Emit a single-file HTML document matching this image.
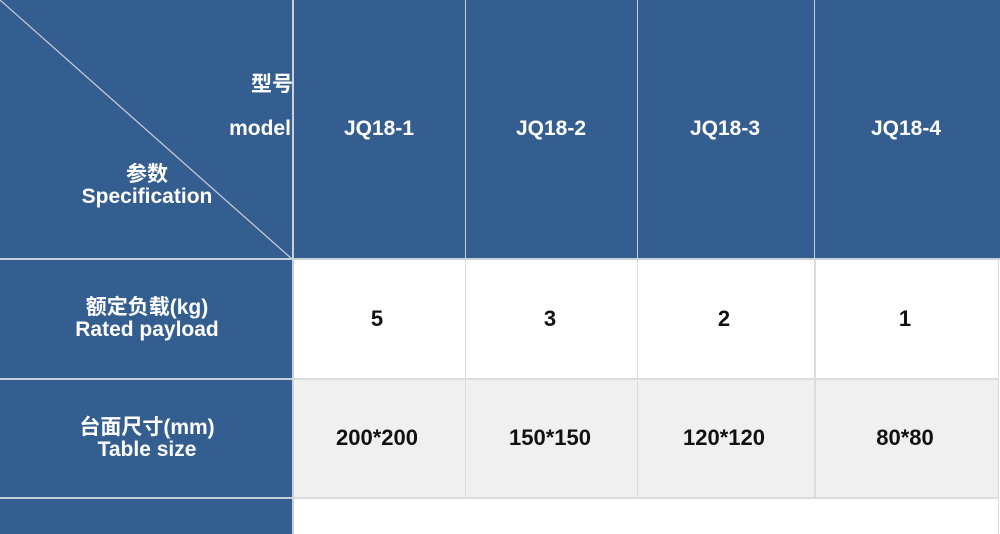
<!DOCTYPE html>
<html><head><meta charset="utf-8"><style>
html,body{margin:0;padding:0;}
body{width:1000px;height:534px;position:relative;overflow:hidden;background:#fff;font-family:"Liberation Sans","Noto Sans CJK SC",sans-serif;font-weight:bold;}
.b{position:absolute;background:#355e90;}
.g{position:absolute;background:#f0f0f0;}
.l{position:absolute;}
.t{position:absolute;font-size:21px;line-height:22px;white-space:nowrap;transform:translate(-50%,-50%);}
.w{color:#fff;}
.k{color:#111;font-size:22px;}
</style></head><body>
<div class="b" style="left:0;top:0;width:1000px;height:259px"></div>
<div class="b" style="left:0;top:0;width:293px;height:534px"></div>
<div class="g" style="left:293px;top:380px;width:706px;height:118px"></div>
<div class="l" style="left:292px;top:0;width:2px;height:534px;background:#c9d0da"></div>
<div class="l" style="left:465px;top:0;width:1px;height:259px;background:#c9d0da"></div>
<div class="l" style="left:637px;top:0;width:1px;height:259px;background:#c9d0da"></div>
<div class="l" style="left:814px;top:0;width:1px;height:259px;background:#c9d0da"></div>
<div class="l" style="left:0;top:258px;width:1000px;height:2px;background:#c9d0da"></div>
<div class="l" style="left:0;top:378px;width:293px;height:2px;background:#c9d0da"></div>
<div class="l" style="left:0;top:497px;width:293px;height:2px;background:#c9d0da"></div>
<div class="l" style="left:465px;top:259px;width:1px;height:239px;background:#dcdcdc"></div>
<div class="l" style="left:637px;top:259px;width:1px;height:239px;background:#dcdcdc"></div>
<div class="l" style="left:814px;top:259px;width:2px;height:239px;background:#dcdcdc"></div>
<div class="l" style="left:998px;top:259px;width:1px;height:275px;background:#dcdcdc"></div>
<div class="l" style="left:293px;top:378px;width:706px;height:2px;background:#dcdcdc"></div>
<div class="l" style="left:293px;top:497px;width:706px;height:2px;background:#dcdcdc"></div>
<svg style="position:absolute;left:0;top:0" width="294" height="260"><line x1="0" y1="0" x2="292" y2="259" stroke="#c9d0da" stroke-width="1.2"/></svg>
<div class="t w" style="left:272px;top:85px">型号</div>
<div class="t w" style="left:260px;top:129px">model</div>
<div class="t w" style="left:147px;top:175px">参数</div>
<div class="t w" style="left:147px;top:197px">Specification</div>
<div class="t w" style="left:379px;top:129px">JQ18-1</div>
<div class="t w" style="left:551px;top:129px">JQ18-2</div>
<div class="t w" style="left:725px;top:129px">JQ18-3</div>
<div class="t w" style="left:906px;top:129px">JQ18-4</div>
<div class="t w" style="left:147px;top:308px">额定负载(kg)</div>
<div class="t w" style="left:147px;top:330px">Rated payload</div>
<div class="t w" style="left:147px;top:428px">台面尺寸(mm)</div>
<div class="t w" style="left:147px;top:450px">Table size</div>
<div class="t k" style="left:377px;top:319px">5</div>
<div class="t k" style="left:550px;top:319px">3</div>
<div class="t k" style="left:724px;top:319px">2</div>
<div class="t k" style="left:905px;top:319px">1</div>
<div class="t k" style="left:377px;top:438px">200*200</div>
<div class="t k" style="left:550px;top:438px">150*150</div>
<div class="t k" style="left:724px;top:438px">120*120</div>
<div class="t k" style="left:905px;top:438px">80*80</div>
</body></html>
